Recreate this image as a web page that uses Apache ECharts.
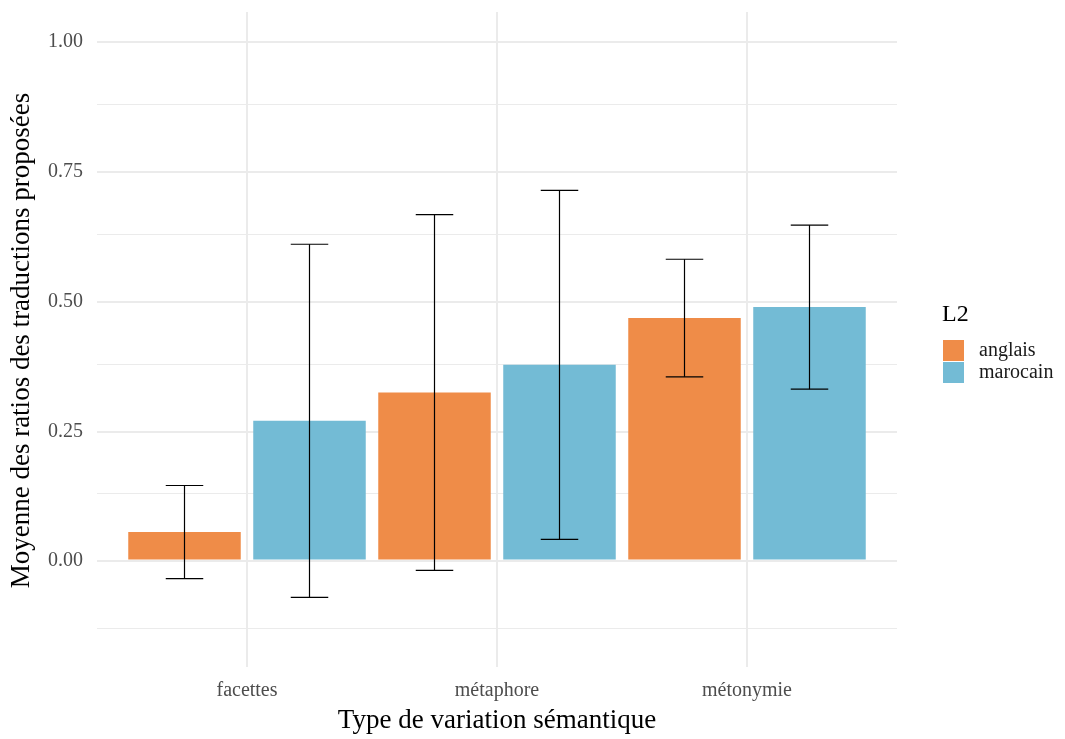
<!DOCTYPE html>
<html><head><meta charset="utf-8">
<script src="https://cdn.jsdelivr.net/npm/echarts@6/dist/echarts.min.js"></script>
<style>html,body{margin:0;padding:0;background:#fff}#c{width:1065px;height:739px}</style>
</head><body><div id="c"></div>
<script>
const categories = ['facettes', 'métaphore', 'métonymie'];
const groups = ['anglais', 'marocain'];
const anglaisMean = [0.053, 0.3225, 0.4667];
const anglaisLow = [-0.037, -0.021, 0.353];
const anglaisHigh = [0.143, 0.666, 0.580];
const marocainMean = [0.268, 0.376, 0.488];
const marocainLow = [-0.073, 0.039, 0.329];
const marocainHigh = [0.609, 0.713, 0.646];
const majorTicks = [0, 0.25, 0.5, 0.75, 1.0];
const minorTicks = [-0.125, 0.125, 0.375, 0.625, 0.875];
const yMin = -0.2075, yMax = 1.0575;

const FONT = 'Liberation Serif';
const colors = ['#EF8C48', '#73BBD5'];

const chart = echarts.init(document.getElementById('c'), null, {renderer: 'canvas'});

function errSeries(name, idx, low, high) {
  return {
    type: 'custom', name: name + '_err', xAxisIndex: 1, yAxisIndex: 1, z: 5,
    silent: true,
    data: categories.map((c, i) => [i, low[i], high[i]]),
    encode: {x: 0, y: [1, 2]},
    renderItem: function (params, api) {
      const ci = api.value(0);
      const band = api.size([1, 0])[0];
      const off = (idx === 0 ? -0.25 : 0.25) * band;
      const p1 = api.coord([ci, api.value(1)]);
      const p2 = api.coord([ci, api.value(2)]);
      const x = p1[0] + off;
      const hw = 0.075 * band;
      const st = {stroke: '#000', lineWidth: 1.2};
      return {type: 'group', children: [
        {type: 'line', shape: {x1: x, y1: p1[1], x2: x, y2: p2[1]}, style: st},
        {type: 'line', shape: {x1: x - hw, y1: p1[1], x2: x + hw, y2: p1[1]}, style: st},
        {type: 'line', shape: {x1: x - hw, y1: p2[1], x2: x + hw, y2: p2[1]}, style: st}
      ]};
    }
  };
}

const option = {
  backgroundColor: '#fff',
  animation: false,
  textStyle: {fontFamily: FONT},
  title: {text: 'L2', left: 937, top: 298, textStyle: {fontFamily: FONT, fontSize: 24, fontWeight: 'normal', color: '#000'}},
  legend: {
    data: groups, orient: 'vertical', left: 938, top: 335, icon: 'rect',
    itemWidth: 21, itemHeight: 21, itemGap: 1,
    textStyle: {fontFamily: FONT, fontSize: 20, color: '#1a1a1a', padding: [0, 0, 0, 10]}
  },
  grid: [
    {left: 97, width: 800, top: 12, height: 657, containLabel: false},
    {left: 122, width: 750, top: 12, height: 657, containLabel: false}
  ],
  xAxis: [
    {type: 'value', gridIndex: 0, min: 0.4, max: 3.6, show: false},
    {type: 'category', gridIndex: 1, data: categories,
     axisLine: {show: false}, axisTick: {show: false}, splitLine: {show: false},
     axisLabel: {fontFamily: FONT, fontSize: 20, color: '#4d4d4d', margin: 14},
     name: 'Type de variation sémantique', nameLocation: 'middle', nameGap: 40,
     nameTextStyle: {fontFamily: FONT, fontSize: 27, color: '#000'}}
  ],
  yAxis: [
    {type: 'value', gridIndex: 0, min: yMin, max: yMax,
     axisLine: {show: false}, axisTick: {show: false}, splitLine: {show: false},
     axisLabel: {customValues: majorTicks, formatter: v => v.toFixed(2), fontFamily: FONT, fontSize: 20, color: '#4d4d4d', margin: 14},
     name: 'Moyenne des ratios des traductions proposées', nameLocation: 'middle', nameGap: 62,
     nameTextStyle: {fontFamily: FONT, fontSize: 27, color: '#000'}},
    {type: 'value', gridIndex: 1, min: yMin, max: yMax, show: false, splitLine: {show: false}}
  ],
  series: [
    {
      type: 'line', xAxisIndex: 0, yAxisIndex: 0, silent: true, z: 0,
      data: [], showSymbol: false,
      markLine: {
        silent: true, symbol: 'none', label: {show: false}, animation: false, z: 1,
        data: [
          ...minorTicks.map(v => ({yAxis: v, lineStyle: {color: '#ebebeb', width: 1, type: 'solid'}})),
          ...majorTicks.map(v => ({yAxis: v, lineStyle: {color: '#ebebeb', width: 2, type: 'solid'}}))
        ]
      }
    },
    {
      type: 'line', xAxisIndex: 1, yAxisIndex: 1, silent: true, z: 0,
      data: [], showSymbol: false,
      markLine: {
        silent: true, symbol: 'none', label: {show: false}, animation: false, z: 1,
        data: categories.map(c => ({xAxis: c, lineStyle: {color: '#ebebeb', width: 2, type: 'solid'}}))
      }
    },
    {name: 'anglais', type: 'bar', xAxisIndex: 1, yAxisIndex: 1, data: anglaisMean,
     barWidth: 112.5, barGap: '11.11%', itemStyle: {color: colors[0]}, z: 3},
    {name: 'marocain', type: 'bar', xAxisIndex: 1, yAxisIndex: 1, data: marocainMean,
     barWidth: 112.5, barGap: '11.11%', itemStyle: {color: colors[1]}, z: 3},
    errSeries('anglais', 0, anglaisLow, anglaisHigh),
    errSeries('marocain', 1, marocainLow, marocainHigh)
  ]
};
chart.setOption(option);
</script></body></html>
